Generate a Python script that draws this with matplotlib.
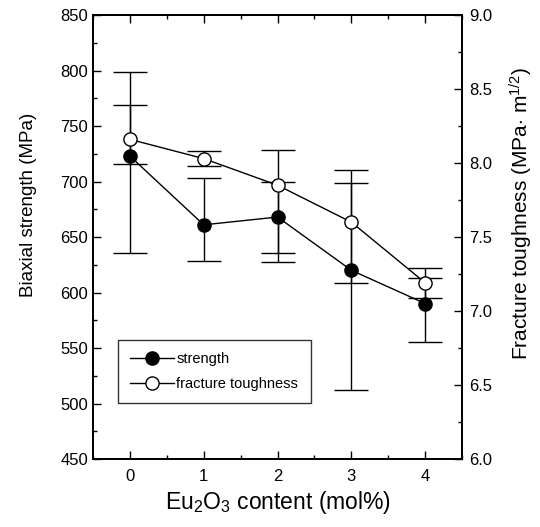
import numpy as np
import matplotlib
matplotlib.use("Agg")
import matplotlib.pyplot as plt
from matplotlib.ticker import MultipleLocator
from matplotlib.lines import Line2D

# Eu2O3 content (mol%)
content = [0, 1, 2, 3, 4]

# biaxial strength (MPa) and error bar ends
strength = [723, 661, 668, 620, 590]
strength_hi = [799, 703, 700, 699, 613]
strength_lo = [636, 628, 636, 512, 555]

# fracture toughness (MPa m^1/2) and error bar ends
toughness = [8.16, 8.03, 7.85, 7.60, 7.19]
toughness_hi = [8.39, 8.08, 8.09, 7.95, 7.29]
toughness_lo = [7.99, 7.98, 7.33, 7.19, 7.09]

plt.rcParams['font.family'] = ['Liberation Sans', 'DejaVu Sans']
plt.rcParams['mathtext.fontset'] = 'custom'
plt.rcParams['mathtext.rm'] = 'Liberation Sans'
plt.rcParams['mathtext.it'] = 'Liberation Sans'

fig = plt.figure(figsize=(5.4, 5.27), dpi=100)
ax = fig.add_axes([0.172, 0.129, 0.684, 0.8425])
ax2 = ax.twinx()

s = np.array(strength)
t = np.array(toughness)
s_err = [s - np.array(strength_lo), np.array(strength_hi) - s]
t_err = [t - np.array(toughness_lo), np.array(toughness_hi) - t]

ax.errorbar(content, strength, yerr=s_err, fmt='-o', color='black',
            mfc='black', mec='black', ms=9.5, lw=1.0, elinewidth=1.0,
            capsize=12, capthick=1.0, zorder=3)
ax2.errorbar(content, toughness, yerr=t_err, fmt='-o', color='black',
             mfc='white', mec='black', ms=9.5, mew=1.0, lw=1.0, elinewidth=1.0,
             capsize=12, capthick=1.0, zorder=3)

ax.set_xlim(-0.5, 4.5)
ax.set_ylim(450, 850)
ax2.set_ylim(6.0, 9.0)

ax.xaxis.set_major_locator(MultipleLocator(1))
ax.xaxis.set_minor_locator(MultipleLocator(0.5))
ax.yaxis.set_major_locator(MultipleLocator(50))
ax.yaxis.set_minor_locator(MultipleLocator(25))
ax2.yaxis.set_major_locator(MultipleLocator(0.5))
ax2.yaxis.set_minor_locator(MultipleLocator(0.25))
ax2.yaxis.set_major_formatter(plt.FormatStrFormatter('%.1f'))

ax.tick_params(which='both', direction='in', top=True, right=False, width=1.0)
ax.tick_params(which='major', length=6, labelsize=12)
ax.tick_params(which='minor', length=3)
ax.tick_params(axis='x', which='major', pad=7)
ax2.tick_params(which='both', direction='in', width=1.0)
ax2.tick_params(which='major', length=6, labelsize=12, pad=5)
ax2.tick_params(which='minor', length=3)

for sp in ax.spines.values():
    sp.set_linewidth(1.3)
for sp in ax2.spines.values():
    sp.set_linewidth(1.3)

ax.set_xlabel('Eu$_2$O$_3$ content (mol%)', fontsize=16.5)
ax.set_ylabel('Biaxial strength (MPa)', fontsize=13.5)
ax.yaxis.set_label_coords(-0.15, 0.572)
ax2.set_ylabel(r'Fracture toughness (MPa$\cdot$ m$^{1/2}$)', fontsize=15)
ax2.yaxis.set_label_coords(1.122, 0.554)

handles = [
    Line2D([], [], color='black', marker='o', mfc='black', mec='black', ms=9.5, lw=1.0),
    Line2D([], [], color='black', marker='o', mfc='white', mec='black', ms=9.5, lw=1.0),
]
leg = ax2.legend(handles, ['strength', 'fracture toughness'], loc='lower left',
                 bbox_to_anchor=(0.068, 0.126), fontsize=10.5, frameon=True,
                 fancybox=False, edgecolor='black', handlelength=3.0,
                 borderpad=0.85, labelspacing=0.7, handletextpad=0.15,
                 borderaxespad=0)
leg.get_frame().set_linewidth(1.0)

fig.savefig('out.png', dpi=100)
